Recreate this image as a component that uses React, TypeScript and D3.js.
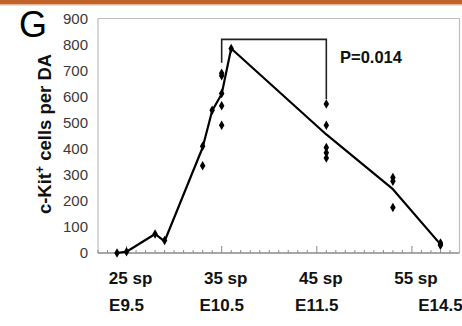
import React from "react";
import * as d3 from "d3";

const lineSp = [24, 25, 28, 29, 33, 34, 35, 36, 46, 53, 58];
const lineVals = [0, 5, 73, 45, 405, 546, 610, 785, 455, 245, 33];

const pointSp = [24, 25, 28, 29, 33, 33, 34, 35, 35, 35, 35, 35, 36, 46, 46, 46, 46, 46, 53, 53, 53, 58, 58, 58];
const pointVals = [0, 5, 73, 48, 410, 335, 548, 690, 680, 612, 565, 490, 785, 572, 490, 405, 385, 365, 290, 275, 175, 38, 33, 30];

const yTicks = [0, 100, 200, 300, 400, 500, 600, 700, 800, 900];
const spLabels = ["25 sp", "35 sp", "45 sp", "55 sp"];
const spLabelPos = [25, 35, 45, 55];
const stageLabels = ["E9.5", "E10.5", "E11.5", "E14.5"];
const stageLabelPos = [25, 35, 45, 58];
const bracketSp = [35, 46];
const bracketVals = [730, 820, 590];
const pText = "P=0.014";

export default function App() {
  const W = 462, H = 326;
  const x = d3.scaleLinear().domain([22, 60]).range([98, 459.5]);
  const y = d3.scaleLinear().domain([0, 900]).range([253, 18.5]);
  const line = d3.line<number>().x((_, i) => x(lineSp[i])).y((d) => y(d));
  const minor = d3.range(22, 60);
  const diamond = d3.symbol().type(d3.symbolDiamond).size(26)();
  const font = "'Liberation Sans', Arial, Helvetica, sans-serif";
  const bracketPath = `M${x(bracketSp[0])},${y(bracketVals[0])}V${y(bracketVals[1])}H${x(bracketSp[1])}V${y(bracketVals[2])}`;
  return (
    <svg width={W} height={H} style={{ position: "absolute", left: 0, top: 0, background: "#fff" }} fontFamily={font}>
      <rect x={0} y={0} width={W} height={4} fill="#c0622a" />
      <rect x={0} y={4} width={W} height={1.5} fill="#e4b79c" />
      <text x={19} y={37} fontSize={36} fill="#000">G</text>
      <path d={`M${x(22)},${y(0)}V${y(900)}H${x(60)}V${y(0)}`} fill="none" stroke="#bdbdbd" strokeWidth={1.2} />
      <line x1={x(22)} x2={x(60)} y1={y(0)} y2={y(0)} stroke="#8a8a8a" strokeWidth={1.3} />
      {minor.map((s) => (
        <line key={s} x1={x(s)} x2={x(s)} y1={y(0)} y2={y(0) - (s % 10 === 5 ? 7 : 3)} stroke="#8a8a8a" strokeWidth={1} />
      ))}
      {yTicks.map((t) => (
        <text key={t} x={88} y={y(t)} dy="0.36em" textAnchor="end" fontSize={15} fill="#3a3a3a">{t}</text>
      ))}
      <text transform="translate(51,134) rotate(-90)" textAnchor="middle" fontSize={18.5} fontWeight="bold" fill="#111">
        c-Kit<tspan dy={-7} fontSize={12}>+</tspan><tspan dy={7}> cells per DA</tspan>
      </text>
      <path d={bracketPath} fill="none" stroke="#222" strokeWidth={1.6} />
      <text x={340} y={62.5} fontSize={16.5} fontWeight="bold" fill="#111">{pText}</text>
      <path d={line(lineVals) || ""} fill="none" stroke="#000" strokeWidth={2.2} strokeLinejoin="round" />
      {pointVals.map((v, i) => (
        <path key={i} d={diamond || ""} transform={`translate(${x(pointSp[i])},${y(v)})`} fill="#000" />
      ))}
      {spLabels.map((l, i) => (
        <text key={l} x={x(spLabelPos[i]) + 4} y={284} textAnchor="middle" fontSize={17} fontWeight="bold" fill="#111">{l}</text>
      ))}
      {stageLabels.map((l, i) => (
        <text key={l} x={x(stageLabelPos[i])} y={311} textAnchor="middle" fontSize={17} fontWeight="bold" fill="#111">{l}</text>
      ))}
    </svg>
  );
}
